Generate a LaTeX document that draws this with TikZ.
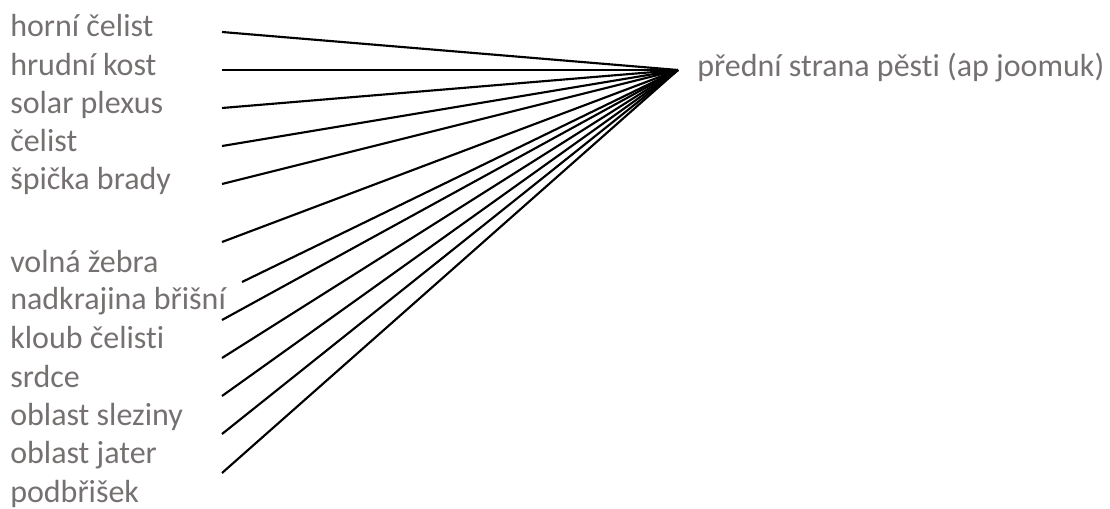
\documentclass[tikz,border=0pt]{standalone}
\usepackage{fontspec}
\setmainfont{Carlito}[Ligatures=NoCommon]
\usetikzlibrary{positioning}
\definecolor{labelgray}{RGB}{118,113,113}

\begin{document}
\begin{tikzpicture}[x=0.75pt, y=-0.75pt,
  part/.style={anchor=base west, inner sep=0pt, text=labelgray, font=\fontsize{24}{29}\selectfont},
  spoke/.style={line width=1.6pt}]
  \useasboundingbox (0,0) rectangle (1110,508);

  % The target on the fist
  \coordinate (hub) at (678,70);
  \node[part] (fist) at (697,76) {přední strana pěsti (ap joomuk)};

  % The targets on the body
  \foreach \y/\name [count=\i] in {36/horní čelist, 75/hrudní kost, 113/solar plexus,
      151/čelist, 189/špička brady, 272/volná žebra, 309/nadkrajina břišní,
      348/kloub čelisti, 387/srdce, 425/oblast sleziny, 463/oblast jater, 502/podbřišek}
    \node[part] (t\i) at (10,\y) {\name};

  % Free ends of the spokes
  \foreach \y [count=\i] in {32,70,108,146,184,242,282,320,358,396,434,473}
    \coordinate (s\i) at (222,\y);
  \coordinate (s7) at (242,282);

  % Spokes to the fist
  \foreach \i in {1,...,12}
    \draw[spoke] (s\i) -- (hub);
\end{tikzpicture}
\end{document}
